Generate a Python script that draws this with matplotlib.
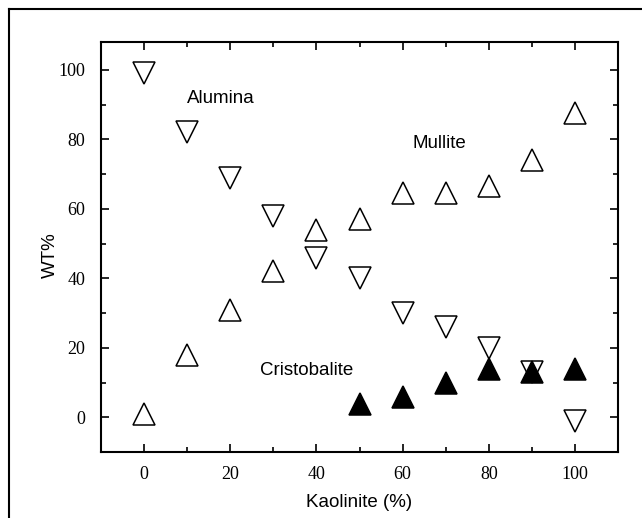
import matplotlib
matplotlib.use("Agg")
import matplotlib.pyplot as plt
from matplotlib.lines import Line2D
from matplotlib.ticker import MultipleLocator

# kaolinite content (%)
kaolinite = [0, 10, 20, 30, 40, 50, 60, 70, 80, 90, 100]

# phase contents, wt%
alumina = [99, 82, 69, 58, 46, 40, 30, 26, 20, 13, -1]
mullite = [1, 18, 31, 42, 54, 57, 64.5, 64.5, 66.5, 74, 87.5]

kaol_cristo = [50, 60, 70, 80, 90, 100]
cristobalite = [4, 6, 10, 14, 13, 14]

serif = "Liberation Serif"
sans = "Liberation Sans"

fig = plt.figure(figsize=(6.42, 5.18), dpi=100)
ax = fig.add_axes([0.157, 0.127, 0.806, 0.792])

ax.plot(kaolinite, alumina, linestyle="none", marker="v", markersize=16.5,
        markerfacecolor="white", markeredgecolor="black", markeredgewidth=1.1)
ax.plot(kaolinite, mullite, linestyle="none", marker="^", markersize=16.5,
        markerfacecolor="white", markeredgecolor="black", markeredgewidth=1.1)
ax.plot(kaol_cristo, cristobalite, linestyle="none", marker="^", markersize=16.5,
        markerfacecolor="black", markeredgecolor="black", markeredgewidth=1.1)

ax.text(17.8, 91.7, "Alumina", family=sans, fontsize=13.5, ha="center", va="center")
ax.text(68.6, 78.9, "Mullite", family=sans, fontsize=13.5, ha="center", va="center")
ax.text(37.8, 13.4, "Cristobalite", family=sans, fontsize=13.5, ha="center", va="center")

ax.set_xlim(-10, 110)
ax.set_ylim(-10, 108)
ax.xaxis.set_major_locator(MultipleLocator(20))
ax.xaxis.set_minor_locator(MultipleLocator(10))
ax.yaxis.set_major_locator(MultipleLocator(20))
ax.yaxis.set_minor_locator(MultipleLocator(10))

ax.tick_params(which="both", direction="in", top=True, right=True,
               labeltop=False, labelright=False, width=1.2)
ax.tick_params(which="major", length=6)
ax.tick_params(which="minor", length=3.5)
ax.tick_params(axis="x", which="major", pad=10)
ax.tick_params(axis="y", which="major", pad=11)
for lab in ax.get_xticklabels() + ax.get_yticklabels():
    lab.set_family(serif)
    lab.set_fontsize(13)

for sp in ax.spines.values():
    sp.set_linewidth(1.5)

ax.set_xlabel("Kaolinite (%)", family=sans, fontsize=13.5, labelpad=8)
ax.set_ylabel("WT%", family=sans, fontsize=13.5)
ax.yaxis.set_label_coords(-0.08, 0.48)

# scanned page frame (top and left edges)
fig.add_artist(Line2D([9 / 642, 1.0], [1 - 9 / 518, 1 - 9 / 518],
                      transform=fig.transFigure, color="black", linewidth=1.5))
fig.add_artist(Line2D([9 / 642, 9 / 642], [0.0, 1 - 9 / 518],
                      transform=fig.transFigure, color="black", linewidth=1.5))

fig.savefig("out.png", dpi=100)
